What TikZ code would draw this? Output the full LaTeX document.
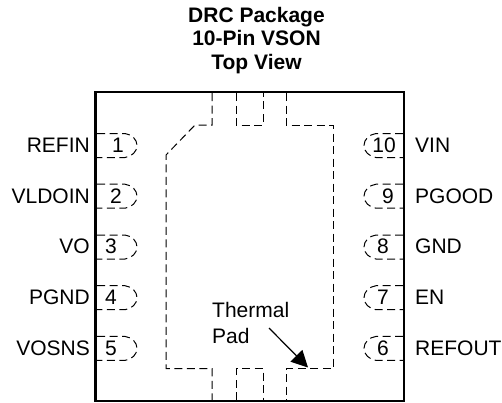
\documentclass[tikz,border=0pt]{standalone}
\usepackage{fontspec}
\setmainfont{Liberation Sans}
\usetikzlibrary{arrows.meta}
\tikzset{
  x=1pt,y=-1pt,
  pkg/.style={line width=2.4pt,draw=black},
  dashline/.style={line width=1pt,dash pattern=on 8pt off 4.5pt,draw=black,line join=miter},
  txt/.style={font=\fontsize{21}{23.5}\selectfont,inner sep=0pt,text=black},
  lbl/.style={txt,anchor=base east},
  lbr/.style={txt,anchor=base west},
  num/.style={txt,anchor=base},
  ttl/.style={font=\fontsize{21}{23.5}\selectfont\bfseries,inner sep=0pt,anchor=base,text=black},
  pointer/.style={line width=1.2pt,-{Triangle[length=16.5pt,width=16.5pt]},shorten >=0pt}
}
\begin{document}
\begin{tikzpicture}
\useasboundingbox (0,0) rectangle (502,402);
\node[ttl] (t1) at (256.5,22) {DRC Package};
\node[ttl] (t2) at (256.5,45.5) {10-Pin VSON};
\node[ttl] (t3) at (256.5,69) {Top View};
\draw[pkg] (95.5,92) rectangle (404,400.8);
% thermal pad outline
\draw[dashline] (212,93) -- (212,125) -- (195,125) -- (166,155) -- (166,368.5) -- (212,368.5) -- (212,400);
\draw[dashline] (236,93) -- (236,125) -- (263,125) -- (263,93);
\draw[dashline] (286,93) -- (286,125) -- (333,125) -- (333,368.5) -- (286,368.5) -- (286,400);
\draw[dashline] (236,400) -- (236,368.5) -- (263,368.5) -- (263,400);
% pins
\foreach \i/\yy in {0/133.5,1/184.2,2/235,3/285.7,4/336.4}{
  \draw[dashline] (97,\yy) -- (125,\yy) .. controls (132,\yy+1) and (137,\yy+6) .. (137,\yy+12)
     .. controls (137,\yy+18) and (132,\yy+23) .. (125,\yy+24) -- (97,\yy+24);
  \draw[dashline] (403,\yy) -- (376,\yy) .. controls (369,\yy+1) and (364,\yy+6) .. (364,\yy+12)
     .. controls (364,\yy+18) and (369,\yy+23) .. (376,\yy+24) -- (403,\yy+24);
}
\node[lbl] (l1) at (90,152) {REFIN};
\node[lbl] (l2) at (90,203) {VLDOIN};
\node[lbl] (l3) at (90,253.5) {VO};
\node[lbl] (l4) at (90,304) {PGND};
\node[lbl] (l5) at (90,355) {VOSNS};
\node[num] (n1) at (118,152) {1};
\node[num] (n2) at (116,203) {2};
\node[num] (n3) at (111,253.5) {3};
\node[num] (n4) at (111,304) {4};
\node[num] (n5) at (111,355) {5};
\node[lbr] (r1) at (415,152) {VIN};
\node[lbr] (r2) at (415,203) {PGOOD};
\node[lbr] (r3) at (415,253.5) {GND};
\node[lbr] (r4) at (415,304) {EN};
\node[lbr] (r5) at (415,355) {REFOUT};
\node[num] (m1) at (384,152) {10};
\node[num] (m2) at (388,203) {9};
\node[num] (m3) at (383,253.5) {8};
\node[num] (m4) at (383,304) {7};
\node[num] (m5) at (383,355) {6};
\node[lbr] (th1) at (212,317) {Thermal};
\node[lbr] (th2) at (212,343) {Pad};
\coordinate (as) at (269,328);
\coordinate (ae) at (308,367.5);
\draw[pointer] (as) -- (ae);
\end{tikzpicture}
\end{document}
